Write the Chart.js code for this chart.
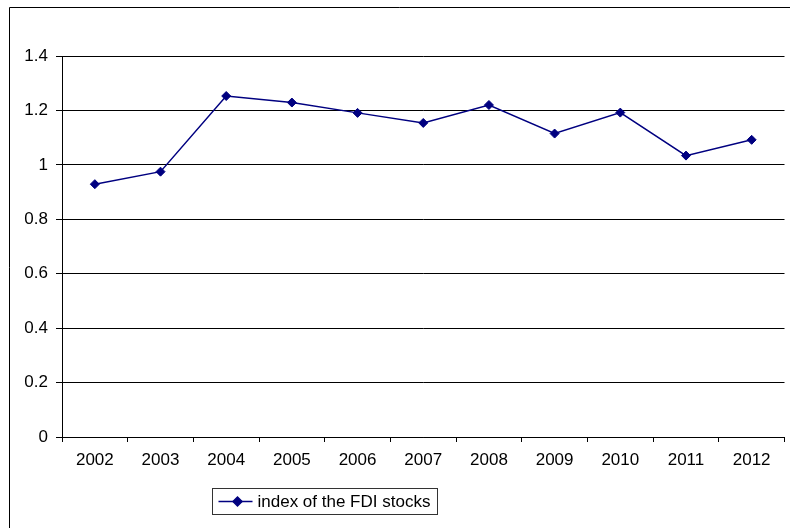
<!DOCTYPE html>
<html>
<head>
<meta charset="utf-8">
<script src="https://cdn.jsdelivr.net/npm/chart.js@4/dist/chart.umd.min.js"></script>
<style>
  html, body { margin: 0; padding: 0; background: #fff; }
  canvas { display: block; }
</style>
</head>
<body>
<canvas id="c" width="790" height="528"></canvas>
<script>
// Years on the horizontal axis
const years = ['2002', '2003', '2004', '2005', '2006', '2007', '2008', '2009', '2010', '2011', '2012'];
// Index of the FDI stocks per year
const fdiIndex = [0.929, 0.975, 1.253, 1.229, 1.191, 1.154, 1.220, 1.115, 1.192, 1.034, 1.092];
const seriesLabel = 'index of the FDI stocks';
// Value axis range and step
const yMin = 0;
const yMax = 1.4;
const yStep = 0.2;

const FONT = { family: '"Liberation Sans", Arial, sans-serif', size: 17 };
const NAVY = '#000080';

// White background plus the outer frame (left and top edges)
const framePlugin = {
  id: 'frame',
  beforeDraw(chart) {
    const ctx = chart.ctx;
    ctx.save();
    ctx.fillStyle = '#fff';
    ctx.fillRect(0, 0, chart.width, chart.height);
    ctx.strokeStyle = '#000';
    ctx.lineWidth = 1;
    ctx.beginPath();
    ctx.moveTo(9.5, chart.height);
    ctx.lineTo(9.5, 7.5);
    ctx.lineTo(chart.width, 7.5);
    ctx.stroke();
    ctx.restore();
  }
};

// Boxed legend below the x axis
const boxLegendPlugin = {
  id: 'boxLegend',
  afterDraw(chart) {
    const ctx = chart.ctx;
    const ds = chart.data.datasets[0];
    const x0 = 212.5, y0 = 488.5, w = 225, h = 26;
    const cy = y0 + h / 2;
    ctx.save();
    ctx.strokeStyle = '#333';
    ctx.lineWidth = 1;
    ctx.strokeRect(x0, y0, w, h);
    ctx.strokeStyle = ds.borderColor;
    ctx.lineWidth = ds.borderWidth;
    ctx.beginPath();
    ctx.moveTo(x0 + 6, cy);
    ctx.lineTo(x0 + 40, cy);
    ctx.stroke();
    ctx.fillStyle = ds.pointBackgroundColor;
    Chart.helpers.drawPoint(ctx, {
      pointStyle: ds.pointStyle,
      radius: ds.pointRadius,
      rotation: 0,
      borderWidth: 1
    }, x0 + 25, cy);
    ctx.fillStyle = '#000';
    ctx.font = FONT.size + 'px ' + FONT.family;
    ctx.textBaseline = 'middle';
    ctx.textAlign = 'left';
    ctx.fillText(ds.label, x0 + 45, cy + 1);
    ctx.restore();
  }
};

new Chart(document.getElementById('c'), {
  type: 'line',
  data: {
    labels: years,
    datasets: [{
      label: seriesLabel,
      data: fdiIndex,
      borderColor: NAVY,
      backgroundColor: NAVY,
      pointBackgroundColor: NAVY,
      pointBorderColor: NAVY,
      borderWidth: 1.5,
      pointStyle: 'rectRot',
      pointRadius: 4.5,
      pointBorderWidth: 1,
      tension: 0,
      fill: false
    }]
  },
  options: {
    responsive: false,
    animation: false,
    events: [],
    layout: { padding: { left: 0, right: 2, top: 56, bottom: 61 } },
    plugins: {
      legend: { display: false },
      tooltip: { enabled: false }
    },
    scales: {
      x: {
        offset: true,
        grid: {
          offset: true,
          drawOnChartArea: false,
          drawTicks: true,
          tickLength: 5,
          color: '#000',
          lineWidth: 1
        },
        border: { display: true, color: '#000', width: 1 },
        ticks: {
          color: '#000',
          font: FONT,
          padding: 8,
          maxRotation: 0,
          autoSkip: false
        },
        afterFit(scale) { scale.height = 30; }
      },
      y: {
        min: yMin,
        max: yMax,
        grid: {
          color: '#000',
          lineWidth: 1,
          drawTicks: true,
          tickLength: 6
        },
        border: { display: true, color: '#000', width: 1 },
        ticks: {
          stepSize: yStep,
          color: '#000',
          font: FONT,
          padding: 8,
          callback: (v) => String(Number(v.toFixed(1)))
        },
        afterFit(scale) { scale.width = 62; }
      }
    }
  },
  plugins: [framePlugin, boxLegendPlugin]
});
</script>
</body>
</html>
